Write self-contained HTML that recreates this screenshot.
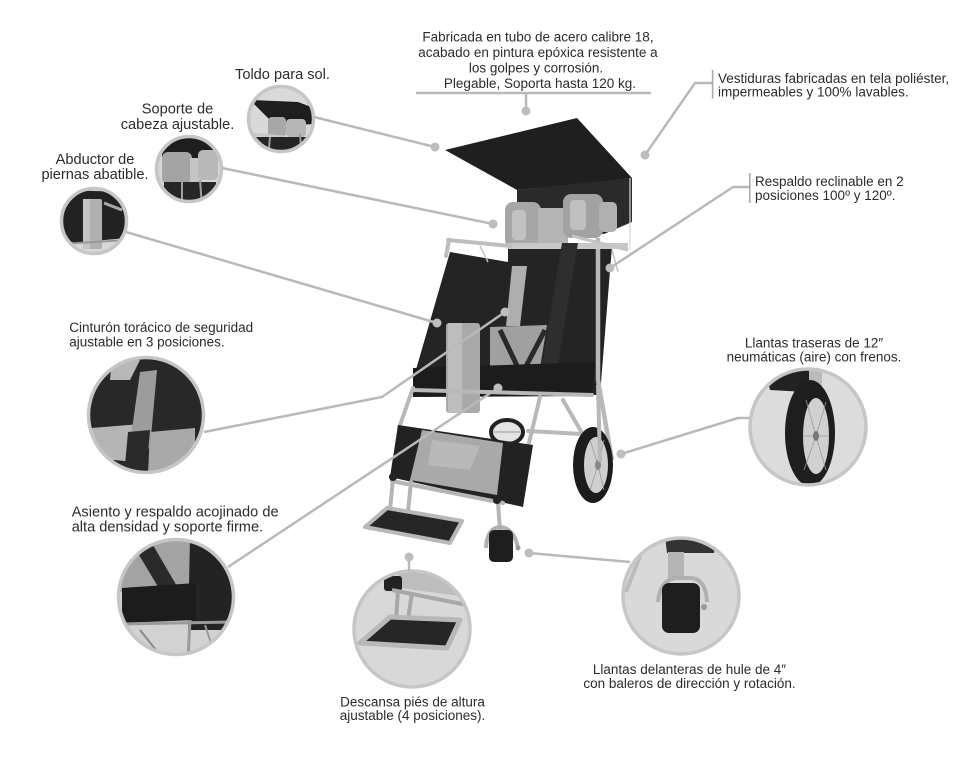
<!DOCTYPE html>
<html><head><meta charset="utf-8"><style>
html,body{margin:0;padding:0;background:#fff;}
svg{display:block;}
text{font-family:"Liberation Sans",Arial,sans-serif;font-size:13.5px;fill:#2b2b2b;}
.m{text-anchor:middle;}
.b{font-size:14.6px;}
</style></head><body>
<svg width="980" height="757" viewBox="0 0 980 757" xmlns="http://www.w3.org/2000/svg">
<defs>
<clipPath id="c1"><circle cx="281" cy="119" r="33"/></clipPath>
<clipPath id="c2"><circle cx="189" cy="169" r="33"/></clipPath>
<clipPath id="c3"><circle cx="94" cy="221" r="33"/></clipPath>
<clipPath id="c4"><circle cx="146" cy="415" r="57"/></clipPath>
<clipPath id="c5"><circle cx="176" cy="597" r="57"/></clipPath>
<clipPath id="c6"><circle cx="412" cy="629" r="58"/></clipPath>
<clipPath id="c7"><circle cx="681" cy="596" r="58"/></clipPath>
<clipPath id="c8"><circle cx="808" cy="427" r="58"/></clipPath>
</defs>
<rect width="980" height="757" fill="#fff"/>

<!-- ===== circle 1 toldo ===== -->
<g clip-path="url(#c1)">
<rect x="240" y="80" width="90" height="80" fill="#d9d9d9"/>
<polygon points="250,100 298,102 314,108 314,124 276,126" fill="#1e1e1e"/>
<rect x="268" y="117" width="18" height="20" rx="4" fill="#a8a8a8"/>
<rect x="286" y="119" width="20" height="18" rx="4" fill="#b6b6b6"/>
<line x1="250" y1="134" x2="284" y2="137" stroke="#c8c8c8" stroke-width="3"/>
<polygon points="254,137 312,137 312,160 254,160" fill="#242424"/>
<line x1="270" y1="137" x2="268" y2="160" stroke="#9a9a9a" stroke-width="2"/>
<line x1="300" y1="134" x2="302" y2="160" stroke="#9a9a9a" stroke-width="2"/>
</g>
<circle cx="281" cy="119" r="32.5" fill="none" stroke="#c6c6c6" stroke-width="3.5"/>

<!-- ===== circle 2 soporte ===== -->
<g clip-path="url(#c2)">
<rect x="150" y="130" width="80" height="80" fill="#d5d5d5"/>
<rect x="162" y="136" width="64" height="22" fill="#1e1e1e"/>
<rect x="162" y="152" width="30" height="32" rx="6" fill="#a4a4a4"/>
<rect x="190" y="158" width="12" height="24" fill="#c4c4c4"/>
<rect x="198" y="150" width="20" height="30" rx="5" fill="#b8b8b8"/>
<rect x="164" y="182" width="52" height="24" fill="#262626"/>
<line x1="182" y1="182" x2="182" y2="206" stroke="#a0a0a0" stroke-width="2"/>
<line x1="200" y1="180" x2="202" y2="206" stroke="#a0a0a0" stroke-width="2"/>
</g>
<circle cx="189" cy="169" r="32.5" fill="none" stroke="#c6c6c6" stroke-width="3.5"/>

<!-- ===== circle 3 abductor ===== -->
<g clip-path="url(#c3)">
<rect x="55" y="183" width="80" height="80" fill="#d8d8d8"/>
<polygon points="62,190 126,192 126,238 62,244" fill="#222"/>
<line x1="104" y1="203" x2="122" y2="210" stroke="#aaa" stroke-width="3"/>
<rect x="83" y="199" width="19" height="50" rx="2" fill="#b0b0b0"/>
<rect x="83" y="199" width="7" height="50" fill="#c4c4c4"/>
<line x1="62" y1="244" x2="126" y2="240" stroke="#999" stroke-width="2"/>
</g>
<circle cx="94" cy="221" r="32.5" fill="none" stroke="#c6c6c6" stroke-width="3.5"/>

<!-- ===== circle 4 cinturon ===== -->
<g clip-path="url(#c4)">
<rect x="85" y="355" width="125" height="125" fill="#282828"/>
<polygon points="112,360 140,360 130,380 110,380" fill="#b8b8b8"/>
<polygon points="92,428 140,424 134,462 94,458" fill="#b5b5b5"/>
<polygon points="150,432 195,428 195,474 148,474" fill="#a9a9a9"/>
<polygon points="140,372 157,370 150,448 128,458" fill="#9c9c9c"/>
<polygon points="128,432 150,430 146,476 124,476" fill="#2a2a2a"/>
</g>
<circle cx="146" cy="415" r="57.5" fill="none" stroke="#c6c6c6" stroke-width="3.5"/>

<!-- ===== circle 5 asiento ===== -->
<g clip-path="url(#c5)">
<rect x="115" y="535" width="125" height="125" fill="#d2d2d2"/>
<polygon points="120,540 200,540 200,592 120,592" fill="#a3a3a3"/>
<polygon points="130,540 150,540 178,588 160,590" fill="#2a2a2a"/>
<polygon points="190,538 236,538 236,630 188,630" fill="#232323"/>
<polygon points="122,588 196,583 196,620 122,623" fill="#1c1c1c"/>
<line x1="120" y1="624" x2="236" y2="622" stroke="#9a9a9a" stroke-width="3"/>
<line x1="190" y1="620" x2="188" y2="660" stroke="#9a9a9a" stroke-width="3"/>
<line x1="140" y1="630" x2="160" y2="655" stroke="#8a8a8a" stroke-width="2"/>
<line x1="205" y1="625" x2="215" y2="655" stroke="#9a9a9a" stroke-width="2"/>
</g>
<circle cx="176" cy="597" r="57.5" fill="none" stroke="#c6c6c6" stroke-width="3.5"/>

<!-- ===== circle 6 descansa ===== -->
<g clip-path="url(#c6)">
<rect x="350" y="568" width="125" height="125" fill="#d8d8d8"/>
<polygon points="398,570 474,570 474,598 400,588" fill="#bdbdbd"/>
<rect x="384" y="576" width="18" height="15" rx="3" fill="#222"/>
<line x1="392" y1="590" x2="472" y2="606" stroke="#a8a8a8" stroke-width="4"/>
<line x1="398" y1="590" x2="396" y2="620" stroke="#a8a8a8" stroke-width="4"/>
<line x1="412" y1="592" x2="408" y2="620" stroke="#a8a8a8" stroke-width="4"/>
<polygon points="390,617 460,620 447,648 360,643" fill="#262626" stroke="#b8b8b8" stroke-width="5" stroke-linejoin="round"/>
</g>
<circle cx="412" cy="629" r="58" fill="none" stroke="#c6c6c6" stroke-width="3.5"/>

<!-- ===== circle 7 delanteras ===== -->
<g clip-path="url(#c7)">
<rect x="620" y="535" width="125" height="125" fill="#d9d9d9"/>
<polygon points="665,536 716,536 714,553 667,553" fill="#333"/>
<line x1="640" y1="556" x2="626" y2="592" stroke="#bcbcbc" stroke-width="4"/>
<rect x="668" y="552" width="16" height="27" fill="#b5b5b5"/>
<path d="M658,602 Q660,580 676,578 L692,578 Q706,580 707,602" fill="none" stroke="#b0b0b0" stroke-width="4"/>
<rect x="662" y="583" width="38" height="50" rx="7" fill="#1e1e1e"/>
<circle cx="704" cy="607" r="3" fill="#999"/>
</g>
<circle cx="681" cy="596" r="58" fill="none" stroke="#c6c6c6" stroke-width="3.5"/>

<!-- ===== circle 8 traseras ===== -->
<g clip-path="url(#c8)">
<rect x="745" y="365" width="125" height="125" fill="#dcdcdc"/>
<polygon points="765,370 812,370 806,392 770,390" fill="#222"/>
<rect x="809" y="366" width="13" height="36" fill="#bbb"/>
<ellipse cx="810" cy="433" rx="25" ry="53" fill="#1e1e1e"/>
<ellipse cx="816" cy="436" rx="13" ry="38" fill="#d0d0d0"/>
<g stroke="#999" stroke-width="0.8">
<line x1="816" y1="436" x2="806" y2="400"/><line x1="816" y1="436" x2="826" y2="402"/>
<line x1="816" y1="436" x2="804" y2="470"/><line x1="816" y1="436" x2="826" y2="470"/>
<line x1="803" y1="436" x2="829" y2="436"/>
</g>
<ellipse cx="816" cy="436" rx="3" ry="5" fill="#777"/>
</g>
<circle cx="808" cy="427" r="58" fill="none" stroke="#c6c6c6" stroke-width="3.5"/>

<!-- ===== main wheelchair ===== -->
<polygon points="445,150 577,118 632,178 600,182 517,190" fill="#1f1f1f"/>
<polygon points="517,190 632,178 632,222 604,234 517,230" fill="#2a2a2a"/>
<line x1="630" y1="178" x2="630" y2="250" stroke="#d8d8d8" stroke-width="1.2"/>
<polygon points="450,252 508,262 508,248 612,246 600,395 413,395 413,380" fill="#242424"/>
<polyline points="598,238 598,380 612,460" fill="none" stroke="#b8b8b8" stroke-width="4.5" stroke-linejoin="round"/>
<rect x="505" y="202" width="36" height="46" rx="8" fill="#a6a6a6"/>
<rect x="512" y="210" width="14" height="30" rx="4" fill="#c2c2c2"/>
<rect x="538" y="208" width="30" height="36" fill="#b4b4b4"/>
<rect x="563" y="194" width="40" height="44" rx="8" fill="#a2a2a2"/>
<rect x="570" y="200" width="16" height="30" rx="4" fill="#c0c0c0"/>
<rect x="599" y="202" width="18" height="30" rx="5" fill="#b0b0b0"/>
<rect x="508" y="243" width="120" height="6" fill="#c8c8c8"/>
<line x1="448" y1="240" x2="510" y2="246" stroke="#bdbdbd" stroke-width="4" stroke-linecap="round"/>
<line x1="449" y1="240" x2="446" y2="256" stroke="#bdbdbd" stroke-width="4" stroke-linecap="round"/>
<line x1="572" y1="236" x2="628" y2="250" stroke="#c4c4c4" stroke-width="3"/>
<line x1="612" y1="250" x2="618" y2="272" stroke="#c4c4c4" stroke-width="1.5"/>
<line x1="480" y1="246" x2="488" y2="262" stroke="#c4c4c4" stroke-width="1.5"/>
<polygon points="562,243 578,243 553,395 537,395" fill="#2e2e2e"/>
<polygon points="490,327 547,325 540,368 490,370" fill="#a0a0a0"/>
<line x1="500" y1="330" x2="520" y2="372" stroke="#2a2a2a" stroke-width="5"/>
<line x1="545" y1="330" x2="523" y2="372" stroke="#2a2a2a" stroke-width="5"/>
<polygon points="512,266 527,266 520,326 506,326" fill="#aeaeae"/>
<polygon points="413,368 595,362 592,396 413,397" fill="#1c1c1c"/>
<rect x="446" y="323" width="34" height="90" rx="3" fill="#a9a9a9"/>
<rect x="448" y="323" width="14" height="90" fill="#bdbdbd"/>
<ellipse cx="507" cy="432" rx="16" ry="12" fill="#e4e4e4" stroke="#222" stroke-width="4"/>
<line x1="494" y1="432" x2="520" y2="432" stroke="#999" stroke-width="1"/>
<g stroke="#b8b8b8" stroke-width="4" stroke-linecap="round" fill="none">
<line x1="413" y1="390" x2="592" y2="395"/>
<line x1="413" y1="388" x2="399" y2="428"/>
<line x1="540" y1="397" x2="528" y2="447"/>
<line x1="563" y1="400" x2="582" y2="433"/>
<line x1="528" y1="431" x2="582" y2="434"/>
</g>
<ellipse cx="593" cy="465" rx="20" ry="38" fill="#1c1c1c"/>
<ellipse cx="596" cy="465" rx="12" ry="28" fill="#cfcfcf"/>
<g stroke="#999" stroke-width="0.8">
<line x1="598" y1="465" x2="590" y2="440"/><line x1="598" y1="465" x2="604" y2="440"/>
<line x1="598" y1="465" x2="590" y2="490"/><line x1="598" y1="465" x2="604" y2="490"/>
</g>
<ellipse cx="598" cy="465" rx="3" ry="5" fill="#888"/>
<line x1="598" y1="385" x2="600" y2="462" stroke="#b8b8b8" stroke-width="4"/>
<polygon points="398,425 533,445 523,507 390,477" fill="#222"/>
<polygon points="422,430 503,443 497,495 410,480" fill="#a9a9a9"/>
<polygon points="432,440 480,446 470,470 428,465" fill="#b9b9b9"/>
<g stroke="#b5b5b5" stroke-width="4" stroke-linecap="round" fill="none">
<line x1="392" y1="481" x2="503" y2="503"/>
<line x1="393" y1="479" x2="390" y2="510"/>
<line x1="411" y1="482" x2="408" y2="512"/>
<line x1="498" y1="503" x2="500" y2="530"/>
</g>
<circle cx="393" cy="477" r="4" fill="#222"/>
<circle cx="497" cy="500" r="4" fill="#222"/>
<polygon points="387,508 462,521 450,543 365,527" fill="#262626" stroke="#b8b8b8" stroke-width="4" stroke-linejoin="round"/>
<path d="M486,548 Q487,528 500,527 Q514,528 518,548" fill="none" stroke="#b0b0b0" stroke-width="4"/>
<rect x="489" y="530" width="24" height="32" rx="5" fill="#1e1e1e"/>
<circle cx="518" cy="548" r="2.5" fill="#999"/>

<!-- ===== connectors ===== -->
<g stroke="#b9b9b9" stroke-width="2.5" fill="none" stroke-linejoin="round">
<line x1="416" y1="93" x2="651" y2="93"/>
<line x1="526" y1="93" x2="526" y2="111"/>
<line x1="314" y1="117" x2="435" y2="147"/>
<line x1="222" y1="168" x2="493" y2="224"/>
<line x1="126" y1="232" x2="437" y2="323"/>
<polyline points="204,432 382,397 505,312"/>
<line x1="228" y1="567" x2="498" y2="388"/>
<line x1="409" y1="557" x2="409" y2="571"/>
<line x1="529" y1="553" x2="630" y2="562"/>
<polyline points="621,454 738,418 750,418"/>
<polyline points="712,83 695,83 645,155"/>
<polyline points="750,187 733,187 610,268"/>
</g>
<g fill="#bdbdbd">
<circle cx="526" cy="111" r="4.5"/>
<circle cx="435" cy="147" r="4.5"/>
<circle cx="493" cy="224" r="4.5"/>
<circle cx="437" cy="323" r="4.5"/>
<circle cx="505" cy="312" r="4.5"/>
<circle cx="498" cy="388" r="4.5"/>
<circle cx="409" cy="557" r="4.5"/>
<circle cx="529" cy="553" r="4.5"/>
<circle cx="621" cy="454" r="4.5"/>
<circle cx="645" cy="155" r="4.5"/>
<circle cx="610" cy="268" r="4.5"/>
</g>
<rect x="711.8" y="70" width="1.6" height="28.5" fill="#aaa"/>
<rect x="749" y="173" width="1.6" height="30" fill="#aaa"/>

<!-- ===== labels ===== -->
<text class="m" x="538" y="41.5">Fabricada en tubo de acero calibre 18,</text>
<text class="m" x="538" y="57">acabado en pintura epóxica resistente a</text>
<text class="m" x="536" y="72.5">los golpes y corrosión.</text>
<text class="m" x="540" y="88">Plegable, Soporta hasta 120 kg.</text>

<text x="718" y="83">Vestiduras fabricadas en tela poliéster,</text>
<text x="718" y="96.5">impermeables y 100% lavables.</text>

<text x="755" y="186">Respaldo reclinable en 2</text>
<text x="755" y="200">posiciones 100º y 120º.</text>

<text class="m b" x="282.5" y="79">Toldo para sol.</text>
<text class="m b" x="177.5" y="113.5">Soporte de</text>
<text class="m b" x="177.5" y="129">cabeza ajustable.</text>
<text class="m b" x="95" y="164">Abductor de</text>
<text class="m b" x="95" y="179">piernas abatible.</text>

<text x="69.3" y="332">Cinturón torácico de seguridad</text>
<text x="69.3" y="346.5">ajustable en 3 posiciones.</text>

<text class="b" x="71.7" y="516.5">Asiento y respaldo acojinado de</text>
<text class="b" x="71.7" y="531.5">alta densidad y soporte firme.</text>

<text class="m" x="814" y="347.5">Llantas traseras de 12″</text>
<text class="m" x="814" y="361.5">neumáticas (aire) con frenos.</text>

<text class="m" x="689.5" y="674">Llantas delanteras de hule de 4″</text>
<text class="m" x="689.5" y="688">con baleros de dirección y rotación.</text>

<text class="m" x="412.5" y="706.5">Descansa piés de altura</text>
<text class="m" x="412.5" y="720">ajustable (4 posiciones).</text>
</svg>
</body></html>
